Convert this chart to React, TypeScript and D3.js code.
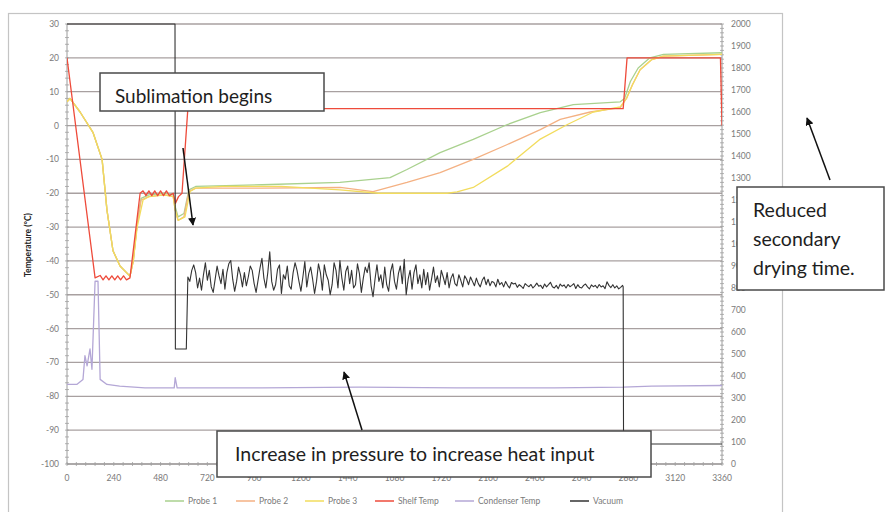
import React from 'react'
import * as d3 from 'd3'

// time in minutes, temperatures in °C, vacuum in mTorr
type Pt = [number, number]

const timeTicks = [0, 240, 480, 720, 960, 1200, 1440, 1680, 1920, 2160, 2400, 2640, 2880, 3120, 3360]
const tempTicks = [30, 20, 10, 0, -10, -20, -30, -40, -50, -60, -70, -80, -90, -100]
const vacTicks = [0, 100, 200, 300, 400, 500, 600, 700, 800, 900, 1000, 1100, 1200, 1300, 1400, 1500, 1600, 1700, 1800, 1900, 2000]

const probe1: Pt[] = [
  [0, 7], [15, 8], [67, 4], [133, -2], [180, -10], [205, -25], [236, -37], [272, -41.5], [323, -44.5],
  [340, -40], [360, -29], [380, -21.5], [420, -20.5], [500, -20], [545, -20.5], [555, -24], [570, -27],
  [600, -26], [625, -19], [660, -18], [1000, -17.5], [1400, -16.8], [1657, -15.4], [1744, -13], [1914, -8],
  [2084, -4.1], [2259, 0.3], [2428, 3.8], [2597, 6.2], [2838, 7], [2860, 8], [2890, 13], [2930, 17],
  [2990, 20], [3060, 21], [3360, 21.5],
]
const probe2: Pt[] = [
  [0, 7], [15, 8], [67, 4], [133, -2], [180, -10], [205, -25], [236, -37], [272, -41.5], [323, -44.5],
  [340, -40], [360, -29], [380, -22], [420, -21], [500, -20.5], [545, -21], [555, -25], [570, -28],
  [600, -27], [625, -19.5], [660, -18.5], [1000, -18.5], [1401, -18.3], [1570, -19.5], [1744, -16.8],
  [1914, -13.9], [2084, -10], [2259, -5.6], [2428, -1.2], [2530, 1.8], [2684, 4], [2838, 5.3],
  [2870, 8], [2900, 12], [2940, 16.5], [3000, 19.5], [3060, 20.5], [3360, 21],
]
const probe3: Pt[] = [
  [0, 7], [15, 8], [67, 4], [133, -2], [180, -10], [205, -25], [236, -37], [272, -41.5], [323, -44.5],
  [340, -40], [360, -30], [390, -22], [420, -21], [500, -20.5], [545, -21], [555, -25], [570, -28],
  [605, -27], [631, -19.5], [660, -18.5], [800, -18], [1100, -18], [1400, -19], [1600, -20], [1950, -20],
  [2001, -19.6], [2084, -18.3], [2259, -12], [2428, -4], [2567, 0.3], [2700, 4], [2838, 5.5], [2870, 8],
  [2900, 12], [2940, 16.5], [3000, 19.5], [3060, 20.5], [3360, 21],
]
const shelfTemp: Pt[] = [
  [0, 20], [144, -45], [170, -44.3], [185, -45.6], [200, -44.4], [215, -45.6], [230, -44.4], [245, -45.6],
  [260, -44.4], [275, -45.6], [290, -44.4], [305, -45.6], [323, -45], [375, -20], [390, -19.3], [405, -20.7],
  [420, -19.3], [435, -20.7], [450, -19.3], [465, -20.7], [480, -19.3], [495, -20.7], [510, -19.3],
  [525, -20.7], [545, -20], [556, -23], [572, -21], [590, -20], [620, 5], [2853, 5], [2873, 20],
  [3352, 20], [3360, 0],
]
const condenserTemp: Pt[] = [
  [0, -76.5], [50, -76.5], [82, -75], [92, -68], [103, -71], [118, -66], [128, -72], [144, -46],
  [159, -46], [170, -75], [205, -76.5], [270, -77], [400, -77.5], [550, -77.5], [555, -74.5], [565, -77.5],
  [1000, -77.5], [1500, -77.3], [2000, -77.5], [2500, -77.5], [2853, -77.3], [3000, -77], [3360, -76.8],
]

const vacuumStart: Pt[] = [[0, 2000], [554, 2000], [556, 523], [612, 523]]
const vacuumNoiseStart = 620
const vacuumNoiseStep = 10
const vacuumNoise = [
  850, 830, 880, 905, 870, 800, 845, 790, 860, 915, 835, 880, 805, 780, 840, 900,
  855, 820, 885, 795, 870, 910, 925, 840, 785, 830, 895, 860, 805, 870, 810, 850,
  900, 880, 820, 780, 835, 890, 935, 845, 800, 870, 965, 830, 790, 815, 885, 905,
  775, 860, 840, 900, 810, 795, 870, 915, 880, 830, 785, 850, 920, 805, 865, 895,
  840, 775, 830, 910, 870, 790, 905, 860, 835, 770, 815, 915, 880, 800, 925, 845,
  790, 875, 900, 820, 880, 800, 815, 910, 865, 780, 845, 895, 870, 915, 810, 760,
  840, 905, 830, 860, 800, 895, 815, 785, 875, 910, 830, 795, 865, 900, 820, 930,
  770, 840, 880, 795, 870, 905, 820, 860, 800, 885, 815, 870, 790, 840, 895, 825,
  855, 805, 880, 850, 815, 870, 800, 845, 865, 820, 810, 860, 835, 805, 855, 840,
  815, 850, 830, 810, 845, 820, 805, 835, 850, 815, 840, 810, 830, 825, 805, 840,
  815, 825, 805, 830, 812, 800, 825, 818, 822, 803, 815, 808, 798, 820, 812, 806,
  816, 800, 810, 822, 808, 812, 798, 818, 805, 815, 826, 806, 800, 812, 797, 818,
  808, 814, 800, 816, 806, 812, 820, 798, 815, 803, 800, 812, 818, 805, 796, 814,
  806, 812, 800, 816, 805, 810, 797, 828, 812, 802, 815, 800, 810, 796, 803, 812,
]
const vacuumEnd: Pt[] = [[2853, 806], [2855, 91], [3360, 91]]

const legendItems = [
  { name: 'Probe 1', color: '#a9d18e' },
  { name: 'Probe 2', color: '#f4b183' },
  { name: 'Probe 3', color: '#f2dc5d' },
  { name: 'Shelf Temp', color: '#ee4b3b' },
  { name: 'Condenser Temp', color: '#b4a7d6' },
  { name: 'Vacuum', color: '#333333' },
]

const W = 886
const H = 512
const left = 67
const right = 722
const top = 24
const bottom = 464
const tickFont = 'Lato, "Open Sans", sans-serif'
const tickColor = '#7a7a7a'

export default function App() {
  const x = d3.scaleLinear().domain([0, 3360]).range([left, right])
  const yT = d3.scaleLinear().domain([-100, 30]).range([bottom, top])
  const yV = d3.scaleLinear().domain([0, 2000]).range([bottom, top])

  const tLine = d3.line<Pt>().x(d => x(d[0])).y(d => yT(d[1]))
  const vLine = d3.line<Pt>().x(d => x(d[0])).y(d => yV(d[1]))

  const vacuum: Pt[] = [
    ...vacuumStart,
    ...vacuumNoise.map((v, i) => [vacuumNoiseStart + i * vacuumNoiseStep, v] as Pt),
    ...vacuumEnd,
  ]

  const tempSeries = [probe1, probe2, probe3, shelfTemp, condenserTemp]

  const minorT = d3.range(-100, 31, 2)
  const minorX = d3.range(0, 3361, 48)
  const minorV = d3.range(0, 2001, 20)

  // legend layout
  const legendX = [165, 236, 305, 375, 455, 570]

  return (
    <svg width={W} height={H} style={{ position: 'absolute', left: 0, top: 0, background: '#fff' }}>
      <defs>
        <clipPath id="plot">
          <rect x={left} y={top - 1} width={right - left} height={bottom - top + 2} />
        </clipPath>
        <marker id="arrow" viewBox="0 0 10 10" refX="9" refY="5" markerWidth="8" markerHeight="8" orient="auto-start-reverse" markerUnits="userSpaceOnUse">
          <path d="M0,0 L10,5 L0,10 z" fill="#111" />
        </marker>
      </defs>
      <rect x={0} y={0} width={W} height={H} fill="#fff" />
      <rect x={8.5} y={13.5} width={774} height={510} fill="none" stroke="#c4c4c4" strokeWidth={1.2} />

      {/* gridlines */}
      {tempTicks.map(t => (
        <line key={t} x1={left} x2={right} y1={yT(t)} y2={yT(t)} stroke="#a8a0a0" strokeWidth={1.3} />
      ))}

      {/* axes */}
      <line x1={left} x2={left} y1={top} y2={bottom} stroke="#9a9a9a" strokeWidth={1} />
      <line x1={right} x2={right} y1={top} y2={bottom} stroke="#9a9a9a" strokeWidth={1} />
      <line x1={left} x2={right} y1={bottom} y2={bottom} stroke="#9a9a9a" strokeWidth={1} />
      {minorT.map(t => (
        <line key={'mt' + t} x1={left - 2} x2={left + 2} y1={yT(t)} y2={yT(t)} stroke="#a0a0a0" strokeWidth={0.8} />
      ))}
      {minorV.map(v => (
        <line key={'mv' + v} x1={right - 2} x2={right + 2} y1={yV(v)} y2={yV(v)} stroke="#a0a0a0" strokeWidth={0.8} />
      ))}
      {minorX.map(t => (
        <line key={'mx' + t} x1={x(t)} x2={x(t)} y1={bottom - 2} y2={bottom + 2} stroke="#a0a0a0" strokeWidth={0.8} />
      ))}

      {/* tick labels */}
      {tempTicks.map(t => (
        <text key={'lt' + t} x={59} y={yT(t) + 3} textAnchor="end" fontSize={8.5} fontFamily={tickFont} fill={tickColor}>{t}</text>
      ))}
      {vacTicks.map(v => (
        <text key={'lv' + v} x={731} y={yV(v) + 3} textAnchor="start" fontSize={8.5} fontFamily={tickFont} fill={tickColor}>{v}</text>
      ))}
      {timeTicks.map(t => (
        <text key={'lx' + t} x={x(t)} y={481} textAnchor="middle" fontSize={8.5} fontFamily={tickFont} fill={tickColor}>{t}</text>
      ))}
      <text transform="translate(31,245) rotate(-90)" textAnchor="middle" fontSize={8.5} fontWeight="bold" fontFamily={tickFont} fill="#222">Temperature (°C)</text>

      {/* series */}
      <g clipPath="url(#plot)" fill="none" strokeLinejoin="round">
        {tempSeries.map((s, i) => (
          <path key={i} d={tLine(s) ?? ''} stroke={legendItems[i].color} strokeWidth={1.3} />
        ))}
        <path d={vLine(vacuum) ?? ''} stroke={legendItems[5].color} strokeWidth={1.1} />
      </g>

      {/* legend */}
      {legendItems.map((it, i) => (
        <g key={it.name}>
          <line x1={legendX[i]} x2={legendX[i] + 19} y1={501} y2={501} stroke={it.color} strokeWidth={1.5} />
          <text x={legendX[i] + 23} y={504} fontSize={8.5} fontFamily={tickFont} fill={tickColor}>{it.name}</text>
        </g>
      ))}

      {/* annotations */}
      <g fontFamily='Lato, "Open Sans", sans-serif' fill="#1e1e1e">
        <rect x={100} y={73} width={224} height={38} fill="#fff" stroke="#4a4a4a" strokeWidth={1.5} />
        <text x={115} y={103} fontSize={19}>Sublimation begins</text>
        <line x1={183} y1={148} x2={193} y2={225} stroke="#111" strokeWidth={1.5} markerEnd="url(#arrow)" />

        <rect x={737} y={187} width={147} height={103} fill="#fff" stroke="#4a4a4a" strokeWidth={1.5} />
        <text x={753} y={217} fontSize={19.5}>Reduced</text>
        <text x={753} y={246} fontSize={19.5}>secondary</text>
        <text x={753} y={275} fontSize={19.5}>drying time.</text>
        <line x1={830} y1={180} x2={807} y2={118} stroke="#111" strokeWidth={1.5} markerEnd="url(#arrow)" />

        <rect x={217} y={431} width={434} height={46} fill="#fff" stroke="#4a4a4a" strokeWidth={1.5} />
        <text x={235} y={461} fontSize={19.5}>Increase in pressure to increase heat input</text>
        <line x1={362} y1={430} x2={344} y2={372} stroke="#111" strokeWidth={1.5} markerEnd="url(#arrow)" />
      </g>
    </svg>
  )
}
